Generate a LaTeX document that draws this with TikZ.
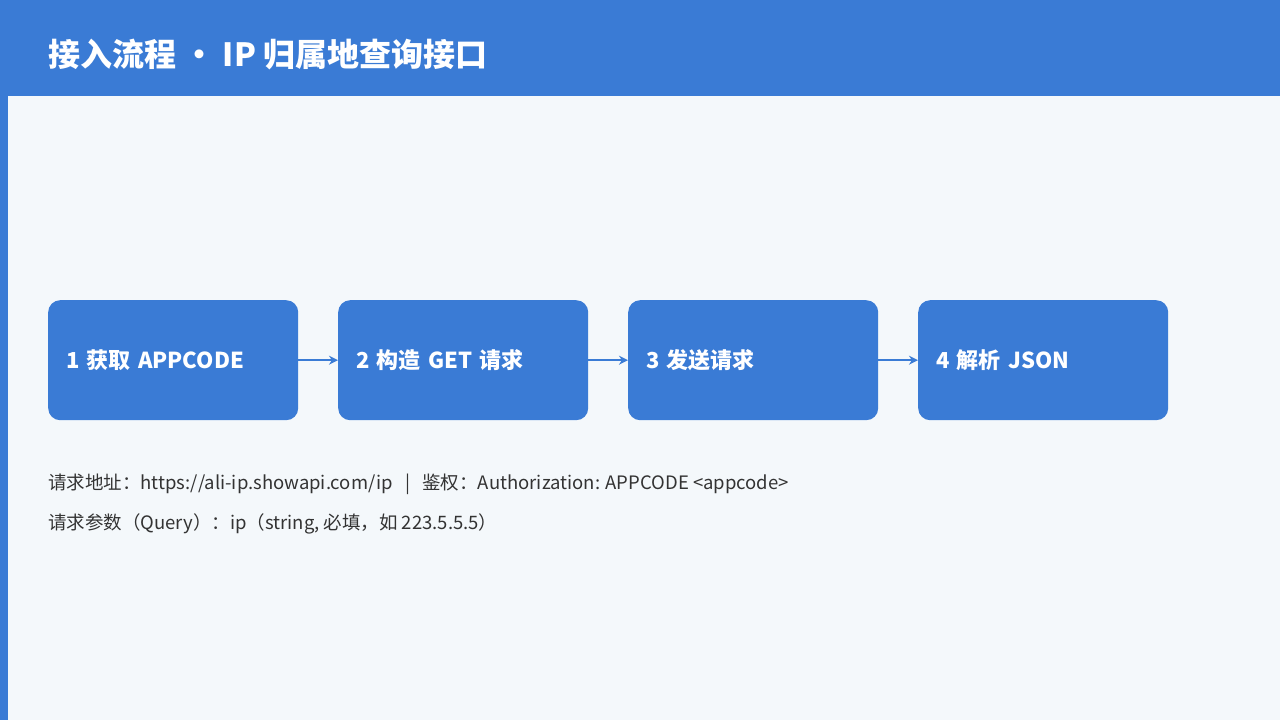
\documentclass[tikz,border=0pt]{standalone}
\usepackage{fontspec}
\setmainfont{Noto Sans CJK SC}
\usetikzlibrary{arrows.meta}
\definecolor{hdr}{HTML}{3A7BD5}
\definecolor{bg}{HTML}{F4F8FB}
\definecolor{txt}{HTML}{333333}
\begin{document}
\begin{tikzpicture}[x=1pt,y=-1pt,
  flowstep/.style={draw=none,fill=hdr,rounded corners=12pt,minimum width=250pt,minimum height=120pt,anchor=north west,text=white,font=\fontsize{22}{26}\selectfont\bfseries,align=left,text width=214pt,inner xsep=18pt},
  conn/.style={hdr,line width=2.5pt,-{Stealth[length=9pt,width=9pt]}},
  body/.style={anchor=west,text=txt,font=\fontsize{18.5}{22}\selectfont,inner sep=0pt}]
\useasboundingbox (0,0) rectangle (1280,720);
\fill[bg] (0,0) rectangle (1280,720);
\fill[hdr] (0,0) rectangle (1280,96);
\fill[hdr] (0,96) rectangle (8,720);
\node[anchor=west,text=white,font=\fontsize{32}{36}\selectfont\bfseries,inner sep=0pt] (title) at (48,55) {接入流程 • IP 归属地查询接口};
\node[flowstep] (s1) at (48,300) {1 获取 APPCODE};
\node[flowstep] (s2) at (338,300) {2 构造 GET 请求};
\node[flowstep] (s3) at (628,300) {3 发送请求};
\node[flowstep] (s4) at (918,300) {4 解析 JSON};
\draw[conn] (s1.east) -- (s2.west);
\draw[conn] (s2.east) -- (s3.west);
\draw[conn] (s3.east) -- (s4.west);
\node[body] (l1) at (48,484) {请求地址：https://ali-ip.showapi.com/ip\ \ \ |\ \ \ 鉴权：Authorization: APPCODE <appcode>};
\node[body] (l2) at (48,524) {请求参数（Query）：ip（string, 必填，如 223.5.5.5）};
\end{tikzpicture}
\end{document}
